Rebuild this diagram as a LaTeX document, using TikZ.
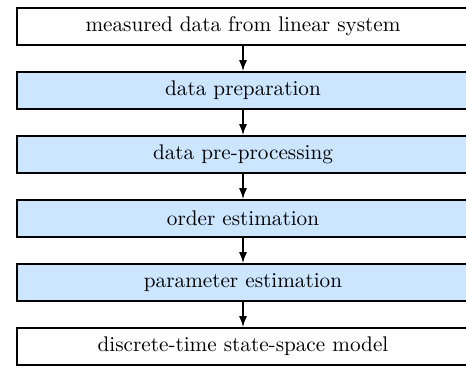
\documentclass[tikz,border=0pt]{standalone}
\usepackage{fontspec}
\usepackage{tikz}
\usetikzlibrary{positioning,arrows.meta}

\definecolor{stepblue}{RGB}{204,230,255}
\tikzset{
  block/.style={draw,thick,minimum width=226pt,minimum height=18.5pt,inner sep=0pt,
    font=\fontsize{10.6pt}{12pt}\selectfont},
  procblock/.style={block,fill=stepblue}
}

\begin{document}
\begin{tikzpicture}[node distance=12.7pt]
  \useasboundingbox (0,0) rectangle (233pt,-184pt);
  % Block
  \node[block] (meas) at (121.5pt,-13.25pt) {measured data from linear system};
  \node[procblock,below=of meas] (prep) {data preparation};
  \node[procblock,below=of prep] (preproc) {data pre-processing};
  \node[procblock,below=of preproc] (order) {order estimation};
  \node[procblock,below=of order] (param) {parameter estimation};
  \node[block,below=of param] (model) {discrete-time state-space model};
  % Pilar
  \foreach \a/\b in {meas/prep,prep/preproc,preproc/order,order/param,param/model}
    \draw[thick,-{Latex[length=5.5pt,width=4pt]}] (\a) -- (\b);
\end{tikzpicture}
\end{document}
